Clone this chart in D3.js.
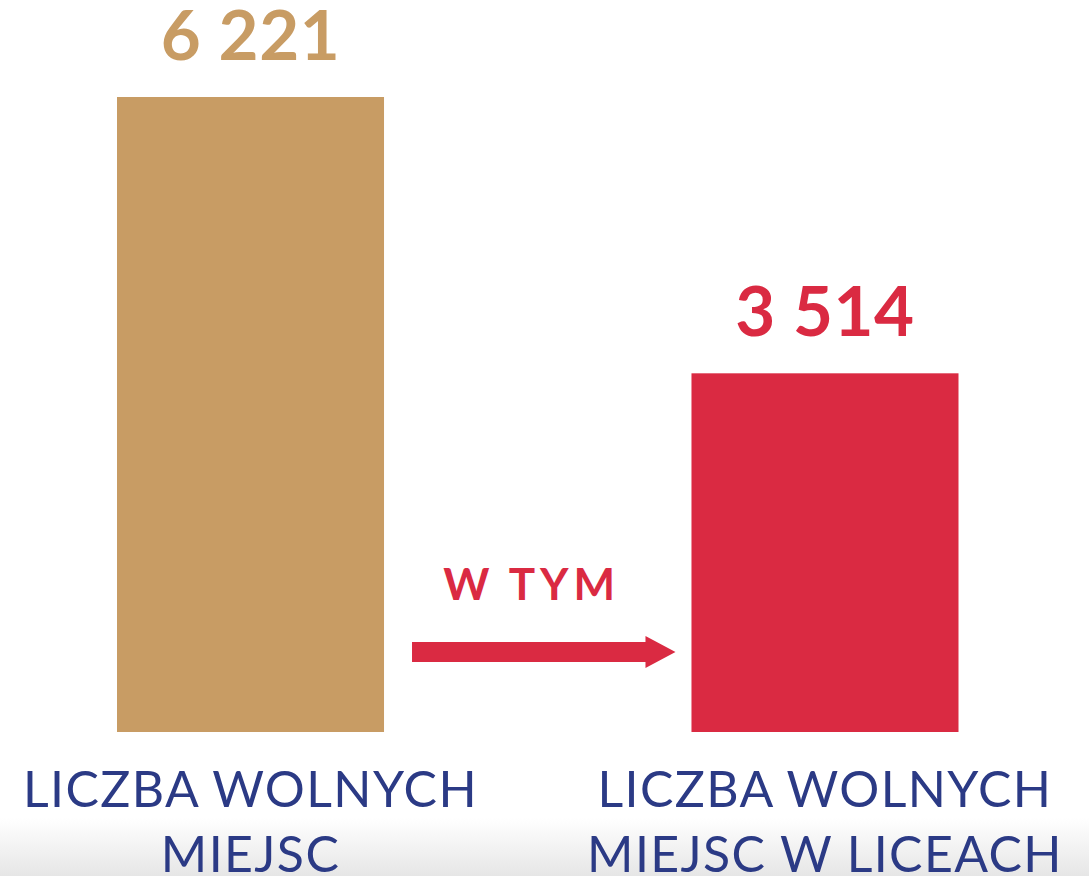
<!DOCTYPE html>
<html>
<head>
<meta charset="utf-8">
<script src="https://cdn.jsdelivr.net/npm/d3@7"></script>
<style>
html,body{margin:0;padding:0;background:#fff;}
svg{display:block;}
</style>
</head>
<body>
<svg id="chart" width="1089" height="876"></svg>
<script>
const categories = ["LICZBA WOLNYCH MIEJSC", "LICZBA WOLNYCH MIEJSC W LICEACH"];
const labelLines = [["LICZBA WOLNYCH", "MIEJSC"], ["LICZBA WOLNYCH", "MIEJSC W LICEACH"]];
const values = [6221, 3514];
const valueLabels = ["6 221", "3 514"];
const colors = ["#C89C64", "#DA2A42"];
const arrowLabel = "W TYM";

const svg = d3.select("#chart");
const W = 1089, H = 876;

// bottom gray gradient
const defs = svg.append("defs");
const g = defs.append("linearGradient").attr("id","fade").attr("x1",0).attr("x2",0).attr("y1",0).attr("y2",1);
g.append("stop").attr("offset","0%").attr("stop-color","#ffffff");
g.append("stop").attr("offset","100%").attr("stop-color","#e6e6e6");
svg.append("rect").attr("x",0).attr("y",818).attr("width",W).attr("height",H-818).attr("fill","url(#fade)");

const x = d3.scaleBand().domain(categories).range([117, 958.5]).paddingInner(0.5352).paddingOuter(0);
const y = d3.scaleLinear().domain([0, 6221]).range([732, 97]);

svg.selectAll("rect.bar").data(values).join("rect")
  .attr("class","bar")
  .attr("x",(d,i)=>x(categories[i]))
  .attr("y",d=>y(d))
  .attr("width",x.bandwidth())
  .attr("height",d=>y(0)-y(d))
  .attr("fill",(d,i)=>colors[i]);

svg.selectAll("text.val").data(values).join("text")
  .attr("class","val")
  .attr("x",(d,i)=>x(categories[i])+x.bandwidth()/2)
  .attr("y",d=>y(d)-37)
  .attr("text-anchor","middle")
  .attr("font-family","Lato, sans-serif")
  .attr("font-weight","bold")
  .attr("font-size",69)
  .attr("letter-spacing",0.5)
  .attr("fill",(d,i)=>colors[i])
  .text((d,i)=>valueLabels[i]);

const lab = svg.selectAll("text.cat").data(labelLines).join("text")
  .attr("class","cat")
  .attr("text-anchor","middle")
  .attr("font-family","Lato, sans-serif")
  .attr("font-size",50)
  .attr("letter-spacing",1.4)
  .attr("fill","#2B3A85");
lab.each(function(lines,i){
  const cx = x(categories[i])+x.bandwidth()/2;
  d3.select(this).selectAll("tspan").data(lines).join("tspan")
    .attr("x",cx)
    .attr("y",(d,j)=>807+j*65)
    .text(d=>d);
});

// arrow between bars
const ax0 = x(categories[0])+x.bandwidth()+28;
const ax1 = x(categories[1])-16;
const ay = 652;
svg.append("path")
  .attr("d",`M${ax0},${ay-10} L${ax1-30},${ay-10} L${ax1-30},${ay-16} L${ax1},${ay} L${ax1-30},${ay+16} L${ax1-30},${ay+10} L${ax0},${ay+10} Z`)
  .attr("fill",colors[1]);

svg.append("text")
  .attr("x",(ax0+ax1)/2-12)
  .attr("y",600)
  .attr("text-anchor","middle")
  .attr("font-family","Lato, sans-serif")
  .attr("font-weight","bold")
  .attr("font-size",44)
  .attr("letter-spacing",5)
  .attr("fill",colors[1])
  .text(arrowLabel);
</script>
</body>
</html>
